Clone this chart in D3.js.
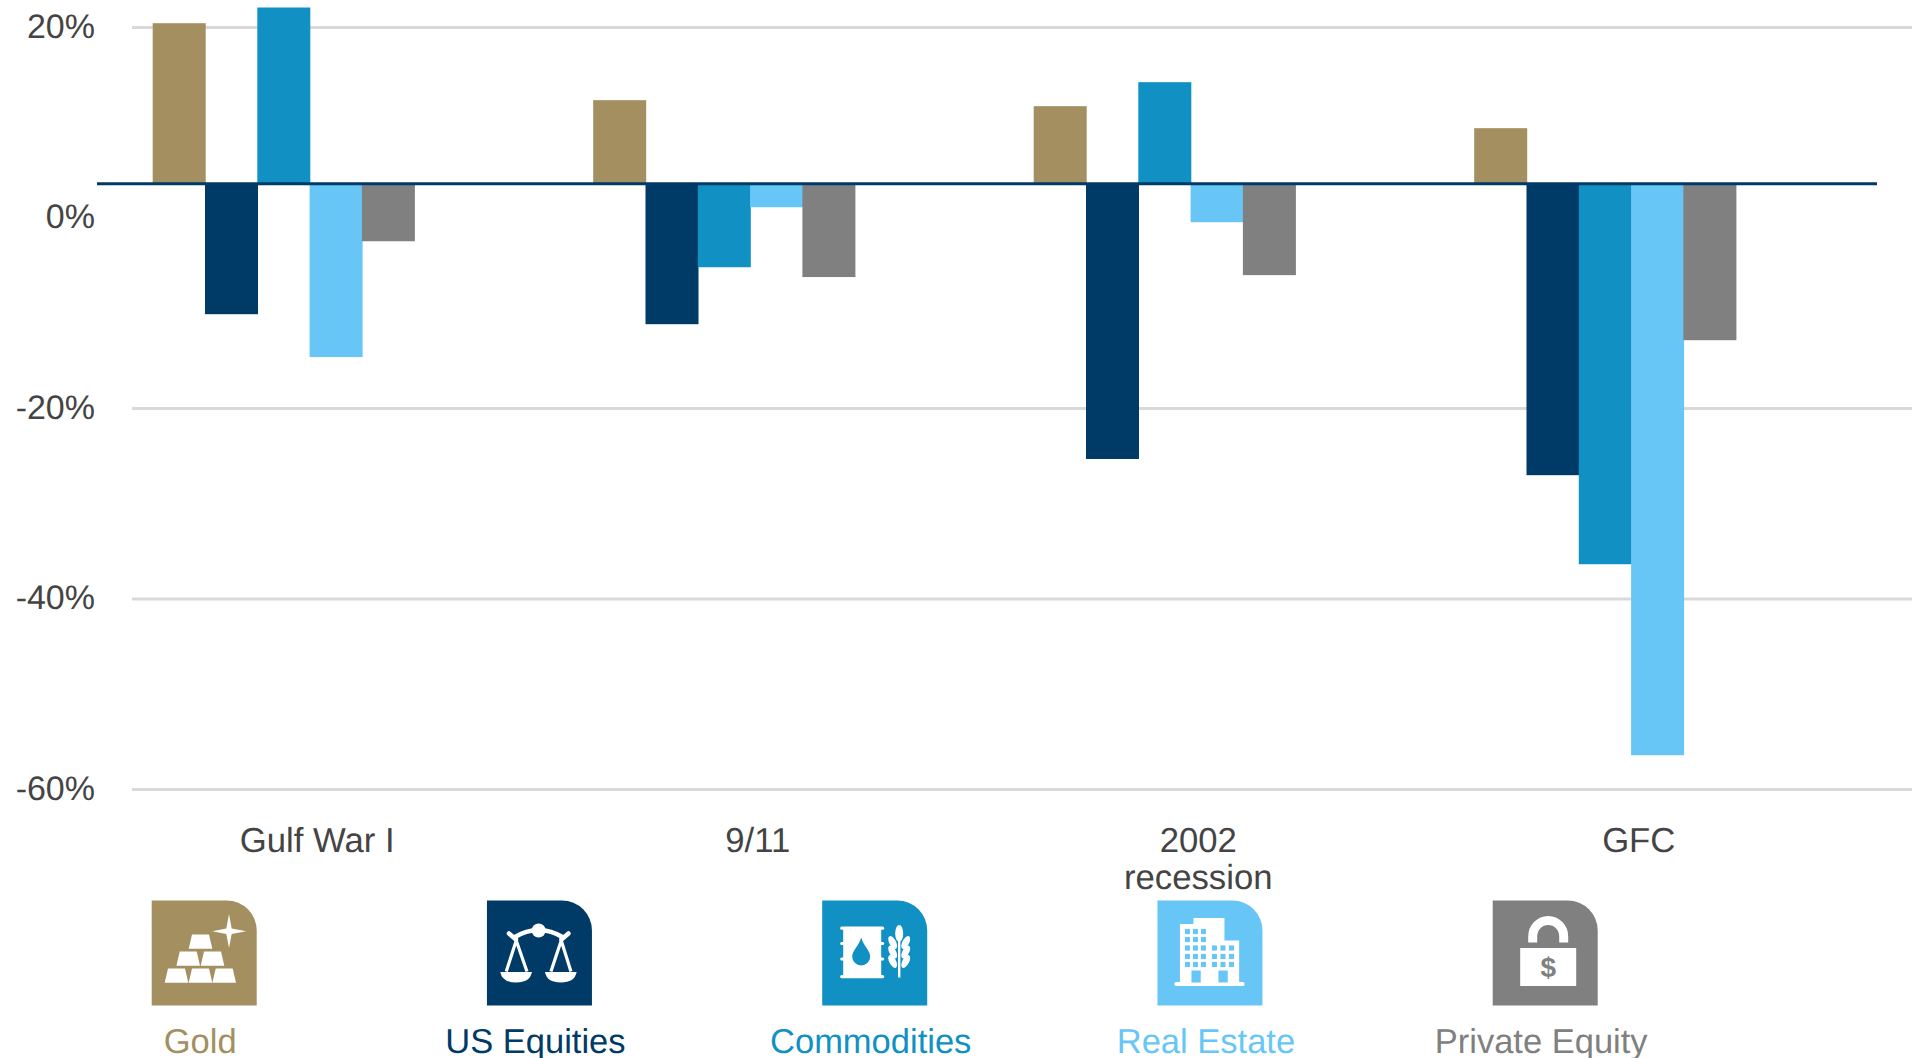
<!DOCTYPE html>
<html><head><meta charset="utf-8">
<script src="https://cdn.jsdelivr.net/npm/d3@7/dist/d3.min.js"></script>
<style>html,body{margin:0;padding:0;background:#fff;overflow:hidden}svg{display:block}text{font-family:"Liberation Sans",Arial,sans-serif;text-rendering:geometricPrecision}</style>
</head><body><div id="chart"></div>
<script>
const categories = ["Gulf War I","9/11","2002 recession","GFC"];
const seriesNames = ["Gold","US Equities","Commodities","Real Estate","Private Equity"];
const seriesColors = ["#a38f5f","#003a66","#1190c3","#68c6f6","#808080"];
const gold = [20.45,12.37,11.74,9.43];
const usEquities = [-10.1,-11.15,-25.3,-27.0];
const commodities = [22.1,-5.17,14.26,-36.35];
const realEstate = [-14.6,1.13,-0.44,-56.4];
const privateEquity = [-2.44,-6.2,-6.0,-12.83];
const tickValues = [20,0,-20,-40,-60];
const baselineValue = 3.6;   // the bars hang from this level in the reference

const allSeries = [gold,usEquities,commodities,realEstate,privateEquity];
const W = 1921, H = 1058;
const svg = d3.select("#chart").append("svg").attr("width",W).attr("height",H).attr("viewBox",`0 0 ${W} ${H}`);

const y = d3.scaleLinear().domain([20,-60]).range([27.5,789.5]);
const x0 = d3.scaleBand().domain(categories).range([97,1859]);
const x1 = d3.scaleBand().domain(seriesNames).range([55.7,55.7+261.5]);

// grid
svg.append("g").selectAll("line").data(tickValues.filter(d=>d!==0)).join("line")
  .attr("x1",132).attr("x2",1912).attr("y1",d=>y(d)).attr("y2",d=>y(d))
  .attr("stroke","#d9d9d9").attr("stroke-width",3);

// bars
seriesNames.forEach((name,si)=>{
  svg.append("g").selectAll("rect").data(allSeries[si]).join("rect")
    .attr("x",(d,i)=>x0(categories[i])+x1(name))
    .attr("width",x1.bandwidth()+0.7)
    .attr("y",d=>Math.min(y(d),y(baselineValue)))
    .attr("height",d=>Math.abs(y(d)-y(baselineValue)))
    .attr("fill",seriesColors[si]);
});

// baseline
svg.append("line").attr("x1",97).attr("x2",1877)
  .attr("y1",y(baselineValue)).attr("y2",y(baselineValue))
  .attr("stroke","#003a66").attr("stroke-width",3);

// y axis
const yAxis = svg.append("g").attr("transform","translate(95,0)")
  .call(d3.axisLeft(y).tickValues(tickValues).tickSize(0).tickPadding(0).tickFormat(d=>d+"%"));
yAxis.select(".domain").remove();
yAxis.selectAll("text").attr("font-size",34).attr("fill","#444444")
  .attr("font-family",'"Liberation Sans",Arial,sans-serif')
  .attr("dy",null).attr("y",9.5);

// category labels
const catG = svg.append("g").selectAll("text").data(categories).join("text")
  .attr("text-anchor","middle").attr("font-size",34.7).attr("fill","#444444")
  .attr("y",851.5);
catG.each(function(d){
  const cx = x0(d)+x0.bandwidth()/2;
  const parts = d==="2002 recession" ? d.split(" ") : [d];
  d3.select(this).selectAll("tspan").data(parts).join("tspan")
    .attr("x",cx).attr("dy",(p,i)=>i?37:0).text(p=>p);
});

// legend
const lx = d3.scalePoint().domain(seriesNames).range([151.7,1492.7]);
const icon = svg.append("g").selectAll("g").data(seriesNames).join("g")
  .attr("transform",d=>`translate(${lx(d)},900.5)`);
icon.append("path").attr("d","M0,0H75A30,30 0 0 1 105,30V105H0Z").attr("fill",(d,i)=>seriesColors[i]);
svg.append("g").selectAll("text").data(seriesNames).join("text")
  .attr("x",d=>lx(d)+48.5).attr("y",1052.5).attr("text-anchor","middle")
  .attr("font-size",34.5).attr("fill",(d,i)=>seriesColors[i]).text(d=>d);

const W_ = "#fff";
// Gold ingots + sparkle
const g0 = icon.filter((d,i)=>i===0);
[[13,68],[37,68],[60.7,68],[24.7,51],[49,51],[37,34]].forEach(([a,b])=>{
  g0.append("path").attr("d",`M${a+3.3},${b}H${a+20.3}L${a+23.6},${b+14.3}H${a}Z`).attr("fill",W_);
});
g0.append("path").attr("d","M77.3,13.5L80,28L94.5,30.7L80,33.4L77.3,47.5L74.6,33.4L60.5,30.7L74.6,28Z").attr("fill",W_);

// Scales
const g1 = icon.filter((d,i)=>i===1);
g1.append("path").attr("d","M27,37Q51.7,22 76.4,37").attr("fill","none").attr("stroke",W_).attr("stroke-width",4.5);
g1.append("circle").attr("cx",51.7).attr("cy",30).attr("r",7).attr("fill",W_);
g1.append("path").attr("d","M22,33L29,39M81.5,33L74.5,39").attr("fill","none").attr("stroke",W_).attr("stroke-width",4.5).attr("stroke-linecap","round");
[[29.3,19.3,40,13.3,45],[74.3,64,84,58,89.7]].forEach(([ax,l,r,p0,p1])=>{
  g1.append("path").attr("d",`M${l},71L${ax},40L${r},71`).attr("fill","none").attr("stroke",W_).attr("stroke-width",3.2);
  g1.append("path").attr("d",`M${p0},71.5H${p1}Q${p1-2},82 ${(p0+p1)/2},82Q${p0+2},82 ${p0},71.5Z`).attr("fill",W_);
});

// Barrel + wheat
const g2 = icon.filter((d,i)=>i===2);
const c2 = seriesColors[2];
g2.append("rect").attr("x",21).attr("y",27).attr("width",38).attr("height",50).attr("fill",W_);
[26,74.5].forEach(v=>g2.append("rect").attr("x",18).attr("y",v).attr("width",44).attr("height",3.2).attr("rx",1.5).attr("fill",W_));
[41.5,57].forEach(v=>{g2.append("rect").attr("x",18).attr("y",v).attr("width",44).attr("height",3).attr("rx",1.5).attr("fill",W_);});
g2.append("path").attr("d","M39,37C41,45 48,50 48,56A9,9 0 0 1 30,56C30,50 37,45 39,37Z").attr("fill",c2);
g2.append("rect").attr("x",75.8).attr("y",40).attr("width",2.4).attr("height",37).attr("fill",W_);
g2.append("ellipse").attr("cx",77).attr("cy",33).attr("rx",4).attr("ry",8.5).attr("fill",W_);
[42,51.5,61].forEach(v=>{
  [[70.5,-28],[83.5,28]].forEach(([cx,r])=>{
    g2.append("ellipse").attr("cx",cx).attr("cy",v).attr("rx",3.4).attr("ry",7)
      .attr("transform",`rotate(${r} ${cx} ${v})`).attr("fill",W_);
  });
});

// Building
const g3 = icon.filter((d,i)=>i===3);
const c3 = seriesColors[3];
g3.append("path").attr("d","M22.5,83V23.5H36V17.5H67V40H81.7V83Z").attr("fill",W_);
g3.append("rect").attr("x",17).attr("y",81.5).attr("width",70).attr("height",4).attr("rx",1.5).attr("fill",W_);
[[31,3],[39,3],[47.5,6],[56,6],[64,6]].forEach(([ry,n])=>{
  [27.5,35.5,43.5,54.5,63,71.5].slice(0,n).forEach(cx=>{
    g3.append("rect").attr("x",cx).attr("y",ry-2.6).attr("width",5).attr("height",5.2).attr("fill",c3);
  });
});
[34,61].forEach(v=>g3.append("rect").attr("x",v).attr("y",70).attr("width",9.3).attr("height",12).attr("fill",c3));

// Lock with dollar
const g4 = icon.filter((d,i)=>i===4);
g4.append("rect").attr("x",27.5).attr("y",47.5).attr("width",56).attr("height",38).attr("fill",W_);
g4.append("path").attr("d","M40,42V36A15.5,16 0 0 1 71,36V42").attr("fill","none").attr("stroke",W_).attr("stroke-width",9);
g4.append("text").attr("x",55.5).attr("y",76).attr("text-anchor","middle").attr("font-size",28).attr("font-weight","bold").attr("fill",seriesColors[4]).text("$");
</script></body></html>
